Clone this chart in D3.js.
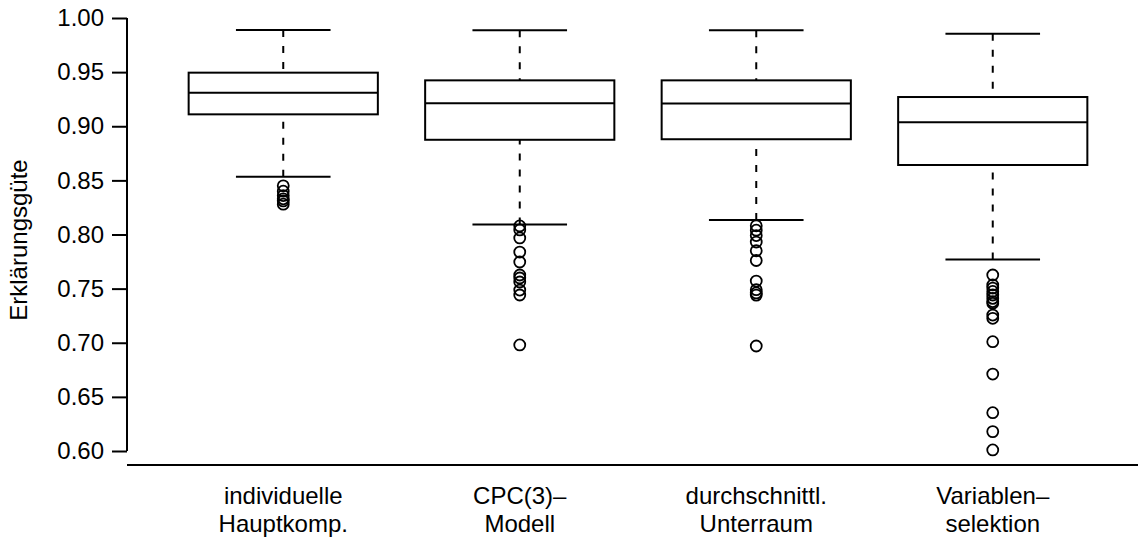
<!DOCTYPE html>
<html>
<head>
<meta charset="utf-8">
<script src="https://cdn.jsdelivr.net/npm/d3@7"></script>
<style>
  html, body { margin: 0; padding: 0; background: #fff; }
  svg { display: block; font-family: "Liberation Sans", Arial, Helvetica, sans-serif; }
</style>
</head>
<body>
<svg id="chart" width="1138" height="538"></svg>
<script>
// Verfahren (Kategorien), zweizeilig beschriftet
const categories = ["indiv", "cpc", "durch", "varsel"];
const labelLine1 = ["individuelle", "CPC(3)\u2013", "durchschnittl.", "Variablen\u2013"];
const labelLine2 = ["Hauptkomp.", "Modell", "Unterraum", "selektion"];

// Fünf-Punkte-Zusammenfassung je Verfahren
const whiskerLow = [0.8534, 0.8093, 0.8133, 0.7770];
const quart1     = [0.9110, 0.8875, 0.8880, 0.8642];
const medians    = [0.9310, 0.9212, 0.9210, 0.9036];
const quart3     = [0.9495, 0.9424, 0.9424, 0.9270];
const whiskerHigh= [0.9890, 0.9886, 0.9886, 0.9855];

// Ausreißer je Verfahren
const outliersIndiv  = [0.845, 0.840, 0.836, 0.833, 0.831, 0.828];
const outliersCpc    = [0.8079, 0.8042, 0.7968, 0.7838, 0.7746, 0.7626, 0.7598, 0.7561, 0.7487, 0.7441, 0.6980];
const outliersDurch  = [0.8080, 0.8040, 0.7990, 0.7930, 0.7850, 0.7760, 0.7570, 0.7490, 0.7460, 0.7440, 0.6970];
const outliersVarsel = [0.7626, 0.7534, 0.7505, 0.7474, 0.7441, 0.7410, 0.7380, 0.7364, 0.7256, 0.7226, 0.7010, 0.6711, 0.6354, 0.6179, 0.6010];
const outliers = [outliersIndiv, outliersCpc, outliersDurch, outliersVarsel];

// y-Achse
const yTicks = [0.60, 0.65, 0.70, 0.75, 0.80, 0.85, 0.90, 0.95, 1.00];
const yTitle = "Erklärungsgüte";

const svg = d3.select("#chart");
const plotLeft = 127, plotBottom = 465;

const y = d3.scaleLinear().domain([0.60, 1.00]).range([451, 18]);
const x = d3.scaleBand().domain(categories).range([165, 1111]).paddingInner(0).paddingOuter(0);
const bw = x.bandwidth();
const boxW = bw * 0.8, capW = boxW / 2;
const cx = c => x(c) + bw / 2;

const stroke = "#000", lw = 2;

// y-Achse mit Ticks links
const yAxis = d3.axisLeft(y).tickValues(yTicks).tickFormat(d3.format(".2f")).tickSize(15).tickPadding(8);
const gy = svg.append("g").attr("transform", `translate(${plotLeft},0)`).call(yAxis);
gy.select(".domain").attr("d", `M0,${y(1)}V${y(0.6)}`)
  .attr("stroke", stroke).attr("stroke-width", lw).attr("fill", "none");
gy.selectAll(".tick line").attr("stroke", stroke).attr("stroke-width", lw);
gy.selectAll(".tick text").attr("font-size", 24).attr("fill", "#000")
  .attr("font-family", "Liberation Sans, Arial, sans-serif");

// untere Linie
svg.append("line").attr("x1", plotLeft).attr("x2", 1138).attr("y1", plotBottom).attr("y2", plotBottom)
  .attr("stroke", stroke).attr("stroke-width", lw);

// Achsentitel
svg.append("text").attr("transform", `translate(27,240) rotate(-90)`)
  .attr("text-anchor", "middle").attr("font-size", 24).text(yTitle);

// Boxplots
categories.forEach((c, i) => {
  const g = svg.append("g");
  const xc = cx(c);
  // Whisker (gestrichelt, vom Ende zur Box)
  [[whiskerHigh[i], quart3[i]], [whiskerLow[i], quart1[i]]].forEach(([a, b]) => {
    g.append("line").attr("x1", xc).attr("x2", xc).attr("y1", y(a)).attr("y2", y(b))
      .attr("stroke", stroke).attr("stroke-width", lw).attr("stroke-dasharray", "7,9");
    g.append("line").attr("x1", xc - capW / 2).attr("x2", xc + capW / 2).attr("y1", y(a)).attr("y2", y(a))
      .attr("stroke", stroke).attr("stroke-width", lw);
  });
  g.append("rect").attr("x", xc - boxW / 2).attr("y", y(quart3[i]))
    .attr("width", boxW).attr("height", y(quart1[i]) - y(quart3[i]))
    .attr("fill", "none").attr("stroke", stroke).attr("stroke-width", lw);
  g.append("line").attr("x1", xc - boxW / 2).attr("x2", xc + boxW / 2).attr("y1", y(medians[i])).attr("y2", y(medians[i]))
    .attr("stroke", stroke).attr("stroke-width", lw);
  g.selectAll("circle").data(outliers[i]).join("circle")
    .attr("cx", xc).attr("cy", d => y(d)).attr("r", 5.5)
    .attr("fill", "none").attr("stroke", stroke).attr("stroke-width", 1.8);
  // Kategorienbeschriftung
  g.append("text").attr("x", xc).attr("y", 504).attr("text-anchor", "middle").attr("font-size", 24).text(labelLine1[i]);
  g.append("text").attr("x", xc).attr("y", 532).attr("text-anchor", "middle").attr("font-size", 24).text(labelLine2[i]);
});
</script>
</body>
</html>
